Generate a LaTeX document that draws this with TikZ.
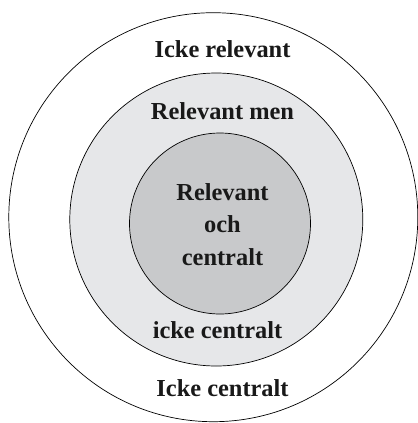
\documentclass[tikz,border=0pt]{standalone}
\usepackage{fontspec}
\setmainfont{Liberation Serif}
\usepackage{tikz}
\usetikzlibrary{shapes,positioning}

\begin{document}
\begin{tikzpicture}[x=1bp, y=-1bp]
    \tikzstyle{ring} = [circle, draw, line width=0.7pt, inner sep=0pt]
    \tikzstyle{label} = [anchor=base, font=\fontsize{24.5}{32}\selectfont\bfseries, text=black!90, align=center]
    \definecolor{ringgray}{RGB}{230,231,233}
    \definecolor{coregray}{RGB}{200,201,203}

    \useasboundingbox (0,0) rectangle (418,423);

    % Icke relevant
    \node [ring, fill=white, minimum size=409bp] (outer) at (213.3,217.2) {};

    % Relevant men icke centralt
    \node [ring, fill=ringgray, minimum size=293bp] (middle) at (216.3,219.5) {};

    % Relevant och centralt
    \node [ring, fill=coregray, minimum size=181bp] (inner) at (220,223.5) {};

    % Texts
    \node [label] (irrelevant) at (222.5,57.5) {Icke relevant};
    \node [label] (relevantmen) at (222.5,119.5) {Relevant men};
    \node [label] (core1) at (222.5,200) {Relevant};
    \node [label] (core2) at (222.5,232.5) {och};
    \node [label] (core3) at (222.5,265) {centralt};
    \node [label] (notcentral) at (217.5,338) {icke centralt};
    \node [label] (icentral) at (222.5,396) {Icke centralt};

\end{tikzpicture}
\end{document}
